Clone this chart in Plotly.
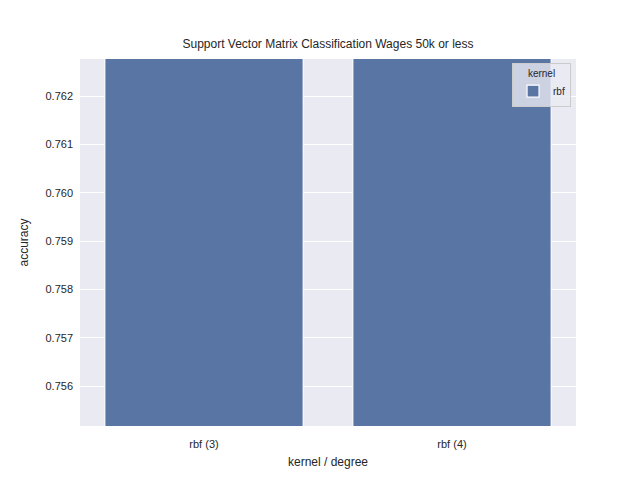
import plotly.graph_objects as go

# accuracy per kernel / degree (bars run past the top of the view)
categories = ["rbf (3)", "rbf (4)"]
accuracy = [0.7635, 0.7635]
kernel = "rbf"
y_ticks = [0.756, 0.757, 0.758, 0.759, 0.760, 0.761, 0.762]

fig = go.Figure()
fig.add_trace(
    go.Bar(
        x=categories,
        y=accuracy,
        name=kernel,
        width=0.8,
        marker=dict(color="#5975a4", line=dict(color="white", width=1.2)),
    )
)

fig.update_layout(
    width=640,
    height=480,
    margin=dict(l=72, r=72, t=51, b=62),
    paper_bgcolor="white",
    plot_bgcolor="#eaeaf2",
    font=dict(family="Liberation Sans, Arial", size=11, color="#262626"),
    title=dict(
        text="Support Vector Matrix Classification Wages 50k or less",
        x=0.5,
        xanchor="center",
        y=1 - 36 / 480,
        yanchor="middle",
        font=dict(size=12),
    ),
    showlegend=True,
    legend=dict(
        title=dict(text="kernel", side="top center", font=dict(size=10)),
        x=0.99,
        xanchor="right",
        y=0.99,
        yanchor="top",
        bgcolor="rgba(234,234,242,0.8)",
        bordercolor="#cccccc",
        borderwidth=1,
        font=dict(size=10),
    ),
    bargap=0.2,
)

fig.update_xaxes(
    range=[-0.5, 1.5],
    showgrid=True,
    gridcolor="white",
    showline=False,
    zeroline=False,
    ticks="",
    ticklabelstandoff=10,
    title=dict(text="kernel / degree", font=dict(size=12), standoff=8),
)
fig.update_yaxes(
    range=[0.755179, 0.762766],
    tickvals=y_ticks,
    tickformat=".3f",
    showgrid=True,
    gridcolor="white",
    gridwidth=1.2,
    zeroline=False,
    showline=False,
    ticks="",
    ticklabelstandoff=6,
    title=dict(text="accuracy", font=dict(size=12), standoff=14),
)

fig.write_html("out.html")
